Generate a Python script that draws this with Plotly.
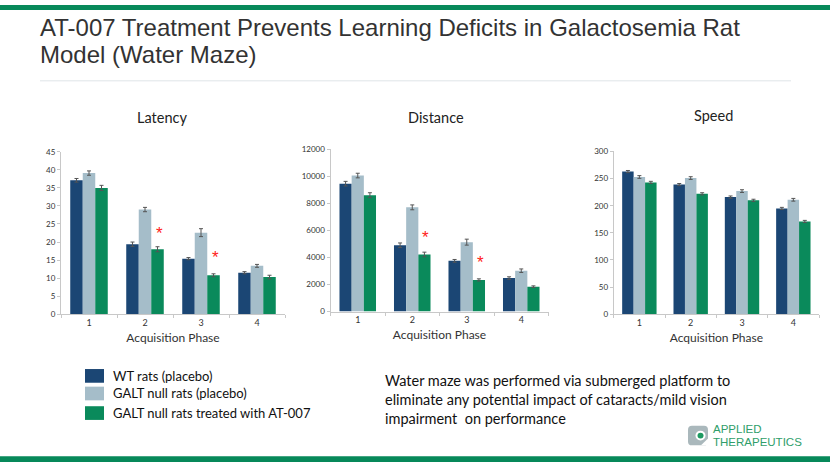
import plotly.graph_objects as go

W, H = 830, 467

# ---------------- data ----------------
phases = ["1", "2", "3", "4"]
series_names = ["WT rats (placebo)", "GALT null rats (placebo)", "GALT null rats treated with AT-007"]
series_colors = ["#1b4674", "#a5bdc9", "#0a8a5b"]

latency_wt = [37.1, 19.4, 15.4, 11.5]
latency_galt = [39.1, 29.0, 22.6, 13.4]
latency_at007 = [35.0, 18.0, 10.8, 10.3]
latency_wt_err = [0.5, 0.6, 0.3, 0.3]
latency_galt_err = [0.6, 0.6, 1.1, 0.4]
latency_at007_err = [0.7, 0.7, 0.4, 0.5]
latency_sig_phase = ["2", "3"]
latency_sig_y = [23.5, 16.7]

distance_wt = [9450, 4900, 3750, 2480]
distance_galt = [10050, 7700, 5130, 3020]
distance_at007 = [8600, 4220, 2340, 1840]
distance_wt_err = [170, 170, 100, 90]
distance_galt_err = [170, 180, 220, 130]
distance_at007_err = [180, 170, 80, 60]
distance_sig_phase = ["2", "3"]
distance_sig_y = [5760, 3950]

speed_wt = [263, 239, 216, 195]
speed_galt = [253, 251, 227, 211]
speed_at007 = [243, 222, 210, 171]
speed_wt_err = [2, 2, 2, 2]
speed_galt_err = [2.5, 2.5, 2.5, 2.5]
speed_at007_err = [2, 2, 2, 2]
speed_sig_phase = []
speed_sig_y = []

chart_titles = ["Latency", "Distance", "Speed"]
x_title = "Acquisition Phase"
main_title_lines = ["AT-007 Treatment Prevents Learning Deficits in Galactosemia Rat",
                    "Model (Water Maze)"]
body_text = ("Water maze was performed via submerged platform to<br>"
             "eliminate any potential impact of cataracts/mild vision<br>"
             "impairment  on performance")
logo_lines = ["APPLIED", "THERAPEUTICS"]

# ---------------- layout helpers ----------------
def px(x):
    return x / W

def py(y):
    return 1 - y / H

BODY_FONT = "Lato, 'Open Sans', sans-serif"

charts = [
    dict(vals=[latency_wt, latency_galt, latency_at007],
         errs=[latency_wt_err, latency_galt_err, latency_at007_err],
         sig=(latency_sig_phase, latency_sig_y),
         xdom=(61, 285), ydom=(316, 150), yrange=[0, 45], dtick=5,
         title_pos=(162, 115)),
    dict(vals=[distance_wt, distance_galt, distance_at007],
         errs=[distance_wt_err, distance_galt_err, distance_at007_err],
         sig=(distance_sig_phase, distance_sig_y),
         xdom=(330.5, 548.5), ydom=(313.3, 147.3), yrange=[0, 12000], dtick=2000,
         title_pos=(436, 115)),
    dict(vals=[speed_wt, speed_galt, speed_at007],
         errs=[speed_wt_err, speed_galt_err, speed_at007_err],
         sig=(speed_sig_phase, speed_sig_y),
         xdom=(613.7, 819), ydom=(316, 149.7), yrange=[0, 300], dtick=50,
         title_pos=(713, 113)),
]

fig = go.Figure()
annotations = []
shapes = []
layout_axes = {}

for ci, ch in enumerate(charts):
    sfx = "" if ci == 0 else str(ci + 1)
    xref = "x" + sfx
    yref = "y" + sfx
    for si in range(3):
        fig.add_trace(go.Bar(
            x=phases, y=ch["vals"][si], name=series_names[si],
            marker=dict(color=series_colors[si], line=dict(width=0)),
            error_y=dict(type="data", array=ch["errs"][si], color="#555555",
                         thickness=1, width=2),
            xaxis=xref, yaxis=yref, showlegend=False,
        ))
    layout_axes["xaxis" + sfx] = dict(
        type="category", domain=[px(ch["xdom"][0]), px(ch["xdom"][1])],
        anchor=yref, showline=True, linecolor="#c8c8c8", linewidth=1,
        ticks="outside", tickson="boundaries", ticklen=3, tickcolor="#c8c8c8",
        tickfont=dict(family=BODY_FONT, size=9, color="#333333"),
        showgrid=False, zeroline=False, fixedrange=True,
        title=dict(text=x_title, standoff=6,
                   font=dict(family=BODY_FONT, size=12, color="#333333")),
    )
    layout_axes["yaxis" + sfx] = dict(
        domain=[py(ch["ydom"][0]), py(ch["ydom"][1])], anchor=xref,
        range=ch["yrange"], dtick=ch["dtick"], tick0=0, tickformat="d",
        showline=True, linecolor="#c8c8c8", linewidth=1,
        ticks="outside", ticklen=3, tickcolor="#c8c8c8",
        tickfont=dict(family=BODY_FONT, size=8, color="#333333"),
        showgrid=False, zeroline=False, fixedrange=True,
    )
    # chart title
    annotations.append(dict(
        text=chart_titles[ci], x=px(ch["title_pos"][0]), y=py(ch["title_pos"][1]),
        xref="paper", yref="paper", xanchor="center", yanchor="middle",
        showarrow=False, font=dict(family=BODY_FONT, size=14.5, color="#222222")))
    # significance asterisks
    for ph, yv in zip(*ch["sig"]):
        annotations.append(dict(
            text="*", x=phases.index(ph) + 0.25, y=yv, xref=xref, yref=yref,
            xanchor="center", yanchor="middle", yshift=-4, showarrow=False,
            font=dict(family="Liberation Sans, Arial, sans-serif", size=17, color="#ff2020")))

# main title (two lines)
for li, yy in enumerate([22.5, 50.5]):
    annotations.append(dict(
        text=main_title_lines[li], x=px(39), y=py(yy), xref="paper", yref="paper",
        xanchor="left", yanchor="middle", align="left", showarrow=False, borderpad=0,
        font=dict(family="Liberation Sans, Arial, sans-serif", size=24, color="#333333")))

# legend
leg_rows = [379, 397, 417]
for si in range(3):
    shapes.append(dict(type="rect", xref="paper", yref="paper",
                       x0=px(85), x1=px(104), y0=py(leg_rows[si] + 7), y1=py(leg_rows[si] - 7),
                       fillcolor=series_colors[si], line=dict(width=0)))
    annotations.append(dict(
        text=series_names[si], x=px(111), y=py(leg_rows[si]), xref="paper", yref="paper",
        xanchor="left", yanchor="middle", showarrow=False,
        font=dict(family=BODY_FONT, size=13, color="#111111")))

# body text
annotations.append(dict(
    text=body_text, x=px(383), y=py(403), xref="paper", yref="paper",
    xanchor="left", yanchor="middle", align="left", showarrow=False,
    font=dict(family=BODY_FONT, size=14.5, color="#111111")))

# logo
for li, yy in enumerate([433.5, 447.0]):
    annotations.append(dict(
        text=logo_lines[li], x=px(712), y=py(yy), xref="paper", yref="paper",
        xanchor="left", yanchor="middle", align="left", showarrow=False, borderpad=0,
        font=dict(family="Liberation Sans, Arial, sans-serif", size=11.5, color="#2f9e6a")))

def rpath(x0, y0, x1, y1, r):
    X0, X1 = px(x0), px(x1)
    Y0, Y1 = py(y0), py(y1)
    rx, ry = r / W, r / H
    return (f"M{X0+rx},{Y0} L{X1-rx},{Y0} Q{X1},{Y0} {X1},{Y0-ry} "
            f"L{X1},{Y1+ry} Q{X1},{Y1} {X1-rx},{Y1} L{X0+rx},{Y1} Q{X0},{Y1} {X0},{Y1+ry} "
            f"L{X0},{Y0-ry} Q{X0},{Y0} {X0+rx},{Y0} Z")

shapes.append(dict(type="path", xref="paper", yref="paper", path=rpath(688, 430, 708, 450, 4),
                   fillcolor="#aab8bc", line=dict(width=0)))
shapes.append(dict(type="path", xref="paper", yref="paper",
                   path=f"M{px(708)},{py(443)} L{px(708)},{py(450)} L{px(701)},{py(450)} Z",
                   fillcolor="#ffffff", line=dict(width=0)))
shapes.append(dict(type="circle", xref="paper", yref="paper",
                   x0=px(695.5), x1=px(705.5), y0=py(445), y1=py(435),
                   fillcolor="#ffffff", line=dict(width=0)))
shapes.append(dict(type="circle", xref="paper", yref="paper",
                   x0=px(697.5), x1=px(703.5), y0=py(443), y1=py(437),
                   fillcolor="#1e9a62", line=dict(width=0)))

# separator + green bands
shapes.append(dict(type="line", xref="paper", yref="paper",
                   x0=px(40), x1=px(791), y0=py(77.5), y1=py(77.5),
                   line=dict(color="#dfe4e8", width=1)))
shapes.append(dict(type="rect", xref="paper", yref="paper",
                   x0=0, x1=1, y0=py(5), y1=1, fillcolor="#07895a", line=dict(width=0)))
shapes.append(dict(type="rect", xref="paper", yref="paper",
                   x0=0, x1=1, y0=0, y1=py(461), fillcolor="#07895a", line=dict(width=0)))

fig.update_layout(
    width=W, height=H, margin=dict(l=0, r=0, t=0, b=0),
    paper_bgcolor="white", plot_bgcolor="white",
    barmode="group", bargap=0.33, bargroupgap=0,
    showlegend=False,
    annotations=annotations, shapes=shapes,
    **layout_axes,
)

fig.write_html("out.html", config={"displayModeBar": False},
               post_script="document.body.style.margin='0';document.body.style.overflow='hidden';")
